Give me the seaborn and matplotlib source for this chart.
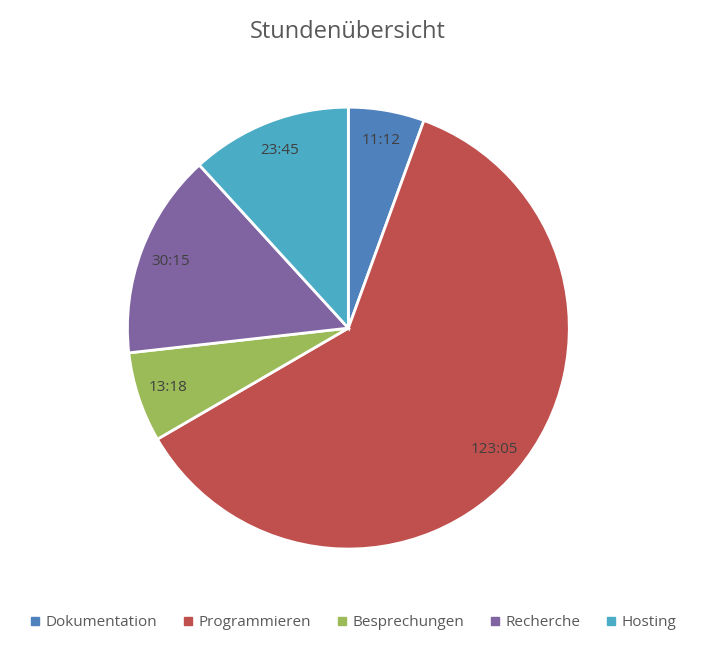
import matplotlib
matplotlib.use("Agg")
import matplotlib.pyplot as plt
import seaborn as sns

# Data
categories = ["Dokumentation", "Programmieren", "Besprechungen", "Recherche", "Hosting"]
time_labels = ["11:12", "123:05", "13:18", "30:15", "23:45"]
colors = ["#4F81BD", "#C0504D", "#9BBB59", "#8064A2", "#4BACC6"]

# convert hh:mm to minutes for slice sizes
minutes = [int(t.split(":")[0]) * 60 + int(t.split(":")[1]) for t in time_labels]

sns.set_theme(style="white")
plt.rcParams["font.family"] = ["Open Sans", "DejaVu Sans"]

fig = plt.figure(figsize=(7.22, 6.46), dpi=100)
ax = fig.add_axes([0.1, 0.0646, 0.765, 0.855])

wedges, texts = ax.pie(
    minutes,
    labels=time_labels,
    colors=colors,
    startangle=90,
    counterclock=False,
    labeldistance=0.86,
    wedgeprops=dict(edgecolor="white", linewidth=2),
    textprops=dict(color="#404040", fontsize=11, ha="center", va="center"),
)
for t in texts:
    t.set_horizontalalignment("center")
ax.set_xlim(-1.25, 1.25)
ax.set_ylim(-1.25, 1.25)
ax.set_aspect("equal")

fig.suptitle("Stundenübersicht", x=348 / 722, y=1 - 32 / 646, va="center",
             fontsize=17, color="#595959")

handles = [plt.Line2D([], [], marker="s", linestyle="", markersize=6, color=c) for c in colors]
fig.legend(handles, categories, loc="center", bbox_to_anchor=(352 / 722, 1 - 623 / 646),
           ncol=5, frameon=False, fontsize=11, labelcolor="#595959",
           handletextpad=0.2, columnspacing=1.5, handlelength=1.0)

fig.savefig("out.png", dpi=100)
